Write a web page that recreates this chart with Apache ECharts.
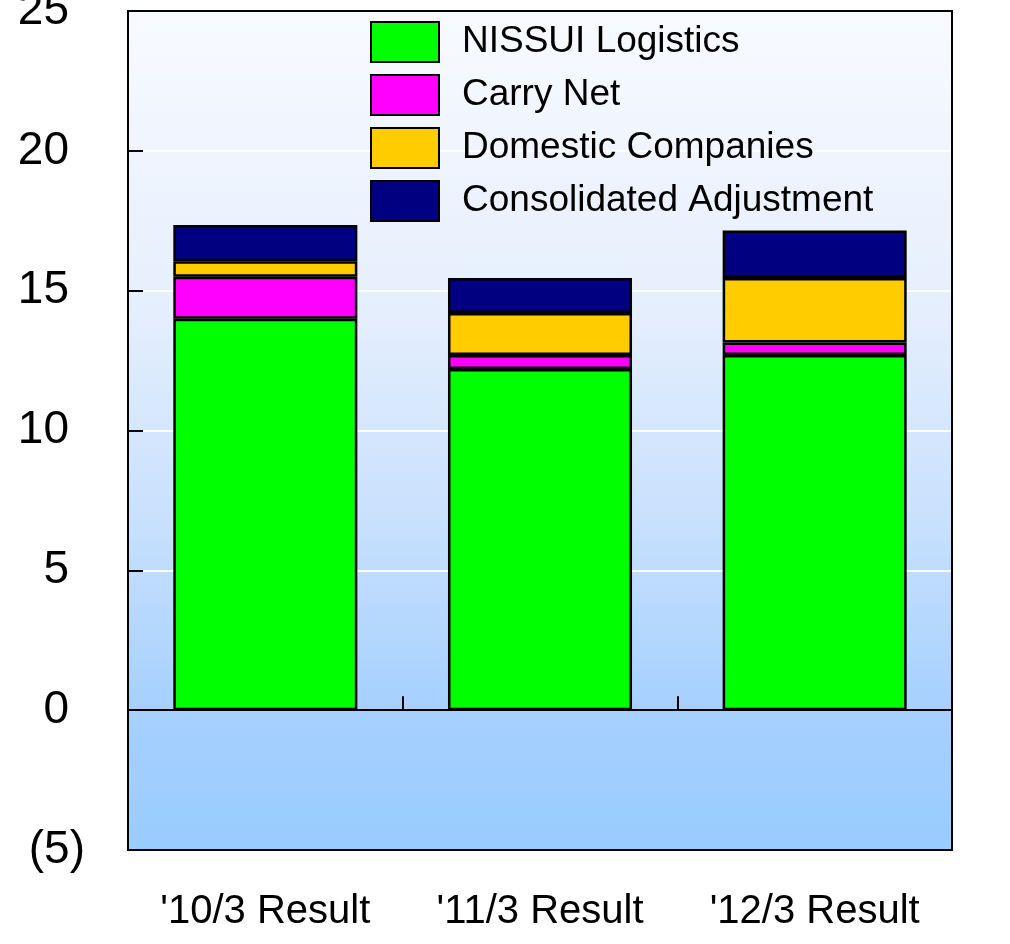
<!DOCTYPE html>
<html>
<head>
<meta charset="utf-8">
<script src="https://cdn.jsdelivr.net/npm/echarts@6/dist/echarts.min.js"></script>
<style>
html,body{margin:0;padding:0;background:#fff;}
#c{width:1010px;height:944px;}
</style>
</head>
<body>
<div id="c"></div>
<script>
var categories = ["'10/3 Result", "'11/3 Result", "'12/3 Result"];
var seriesNames = ['NISSUI Logistics', 'Carry Net', 'Domestic Companies', 'Consolidated Adjustment'];
var nissuiLogistics = [14.0, 12.2, 12.7];
var carryNet = [1.5, 0.5, 0.45];
var domesticCompanies = [0.55, 1.5, 2.3];
var consolidatedAdjustment = [1.3, 1.25, 1.7];
var seriesColors = ['#00ff00', '#ff00ff', '#ffcc00', '#000080'];
var yMin = -5, yMax = 25, yStep = 5;

var FONT = "'Liberation Sans', Arial, sans-serif";
var dataSets = [nissuiLogistics, carryNet, domesticCompanies, consolidatedAdjustment];

var chart = echarts.init(document.getElementById('c'));
chart.setOption({
  animation: false,
  backgroundColor: '#ffffff',
  grid: {
    left: 128, right: 58, top: 11, bottom: 94,
    outerBoundsMode: 'none',
    containLabel: false,
    show: true,
    borderColor: '#000', borderWidth: 2,
    backgroundColor: {
      type: 'linear', x: 0, y: 0, x2: 0, y2: 1,
      colorStops: [
        {offset: 0, color: '#f8faff'},
        {offset: 0.35, color: '#e6effd'},
        {offset: 0.6, color: '#c9e1fd'},
        {offset: 0.83, color: '#a6d0ff'},
        {offset: 1, color: '#99ccff'}
      ]
    }
  },
  legend: {
    orient: 'vertical',
    left: 370, top: 21,
    padding: 0,
    itemWidth: 68, itemHeight: 40, itemGap: 11,
    icon: 'rect',
    data: seriesNames,
    itemStyle: {borderColor: '#000', borderWidth: 2},
    textStyle: {fontFamily: FONT, fontSize: 37, lineHeight: 40, color: '#000', padding: [0, 0, 0, 18]}
  },
  xAxis: [{
    type: 'category',
    data: categories,
    position: 'bottom',
    axisLine: {onZero: true, lineStyle: {color: '#000', width: 2}},
    axisTick: {show: true, inside: true, length: 14, lineStyle: {color: '#000', width: 2}},
    axisLabel: {show: false},
    splitLine: {show: false}
  }, {
    type: 'category',
    data: categories,
    position: 'bottom',
    axisLine: {show: true, onZero: false, lineStyle: {color: '#000', width: 2}},
    axisTick: {show: false},
    axisLabel: {show: true, margin: 42, fontFamily: FONT, fontSize: 40, color: '#000'}
  }, {
    type: 'category',
    data: categories,
    position: 'top',
    axisLine: {show: true, onZero: false, lineStyle: {color: '#000', width: 2}},
    axisTick: {show: false},
    axisLabel: {show: false}
  }],
  yAxis: [{
    type: 'value',
    min: yMin, max: yMax, interval: yStep,
    axisLine: {show: true, onZero: false, lineStyle: {color: '#000', width: 2}},
    axisTick: {show: true, inside: true, length: 15, lineStyle: {color: '#000', width: 2}},
    splitLine: {show: true, showMinLine: false, showMaxLine: false, lineStyle: {color: '#ffffff', width: 2}},
    axisLabel: {
      margin: 43,
      fontFamily: FONT, fontSize: 46, color: '#000',
      formatter: function (v) {
        return v < 0 ? '{p|(' + (-v) + ')}' : '{n|' + v + '}';
      },
      rich: {
        n: {fontFamily: FONT, fontSize: 46, color: '#000', padding: [0, 16, 0, 0]},
        p: {fontFamily: FONT, fontSize: 46, color: '#000'}
      }
    }
  }, {
    type: 'value',
    min: yMin, max: yMax, interval: yStep,
    position: 'right',
    axisLine: {show: true, onZero: false, lineStyle: {color: '#000', width: 2}},
    axisTick: {show: false},
    axisLabel: {show: false},
    splitLine: {show: false}
  }],
  series: seriesNames.map(function (name, i) {
    return {
      name: name,
      type: 'bar',
      stack: 'total',
      xAxisIndex: 0,
      yAxisIndex: 0,
      barWidth: '67%',
      data: dataSets[i],
      itemStyle: {color: seriesColors[i], borderColor: '#000', borderWidth: 2.5}
    };
  })
});
</script>
</body>
</html>
